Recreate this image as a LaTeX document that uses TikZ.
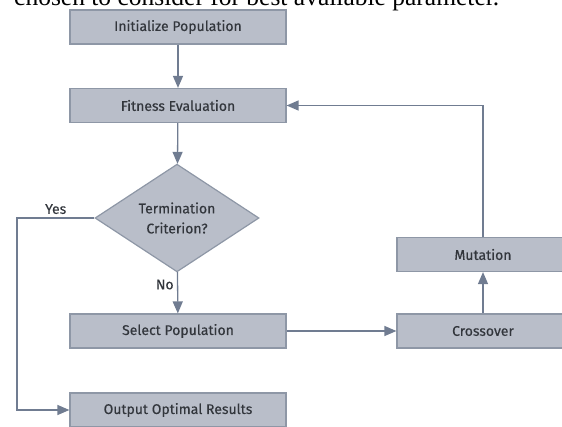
\documentclass[tikz,border=0pt]{standalone}
\usepackage{fontspec}
\setmainfont{Fira Sans}[FakeBold=0.35]
\newfontfamily\capserif{Liberation Serif}
\usetikzlibrary{shapes.geometric,arrows.meta}

\definecolor{boxfill}{RGB}{185,190,201}
\definecolor{boxline}{RGB}{142,151,166}
\definecolor{arrline}{RGB}{112,124,145}
\definecolor{txt}{RGB}{50,54,60}

\begin{document}
\begin{tikzpicture}[x=1pt, y=-1pt,
  box/.style={draw=boxline, fill=boxfill, line width=1.2pt, minimum width=216pt, minimum height=34pt, inner sep=0pt, text=txt, font=\fontsize{14}{16}\selectfont},
  sidebox/.style={box, minimum width=172pt},
  decide/.style={diamond, draw=boxline, fill=boxfill, line width=1.2pt, minimum width=164pt, minimum height=102pt, inner sep=0pt, align=center, text=txt, font=\fontsize{14}{20}\selectfont},
  arr/.style={-{Triangle[length=12pt,width=10pt]}, draw=arrline, line width=1.3pt},
  lbl/.style={text=txt, font=\fontsize{14}{16}\selectfont}]
\useasboundingbox (0,0) rectangle (562,426);
\clip (0,0) rectangle (562,426);
\node[anchor=base west, inner sep=0pt, font=\capserif\fontsize{25.5}{30}\selectfont] (cap) at (14,5.5) {chosen to consider for best available parameter.};
\node[box] (init) at (178,27) {Initialize Population};
\node[box] (fit) at (178,105.5) {Fitness Evaluation};
\node[decide] (term) at (177,218) {Termination\\Criterion?};
\node[box] (sel) at (178,331) {Select Population};
\node[box] (out) at (178,410) {Output Optimal Results};
\node[sidebox] (cross) at (483,331) {Crossover};
\node[sidebox] (mut) at (483,254.5) {Mutation};
\coordinate (yes) at (17,218);
\draw[arr] (init) -- (fit);
\draw[arr] (fit) -- (term);
\draw[arr] (term) -- node[lbl, pos=0.3, left] {No} (sel);
\draw[arr] (term.west) -- node[lbl, above] {Yes} (yes) |- (out);
\draw[arr] (sel) -- (cross);
\draw[arr] (cross) -- (mut);
\draw[arr] (mut) |- (fit);
\end{tikzpicture}
\end{document}
